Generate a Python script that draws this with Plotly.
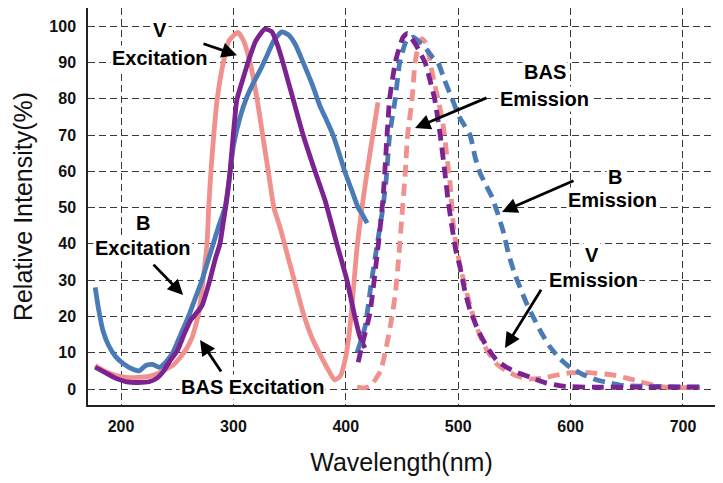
import plotly.graph_objects as go

# ---- data ----
b_exc_x = [177, 180, 184, 189, 195, 202, 210, 216, 222, 228, 234, 240, 246, 253, 260, 266, 272, 277, 282, 287,
           292.5, 296, 300, 306, 312, 318, 324, 330, 336, 343, 349, 355, 362, 370, 377, 383, 388.6, 394, 399, 405, 411, 415, 419]
b_exc_y = [28, 22, 16, 12, 9, 7, 5.5, 5, 6.5, 6.8, 6, 7.5, 10, 15, 20, 25, 30, 35, 40, 45,
           50, 57, 67, 75, 80.5, 84.5, 88, 92, 96, 98.4, 97.6, 95, 90, 84, 78, 74, 70, 65, 60, 55, 50, 48, 45.7]

v_exc_x = [177, 186, 195, 205, 215, 225, 232, 238, 244, 250, 256, 262, 266, 272, 279, 284, 288, 291, 294, 297,
           303, 308, 314, 320, 328, 334, 339, 344, 353, 362, 372.6, 381.5, 392, 401, 408, 413, 417]
v_exc_y = [6, 4.5, 3, 2, 1.8, 2, 3, 5, 8, 10.5, 15, 19, 20.5, 23, 30, 36, 40, 46, 52, 60,
           79.6, 85, 91, 96, 99.2, 98.5, 95, 90, 80, 70, 60, 52, 40, 30, 20, 14, 11.3]

bas_exc_x = [177, 185, 195, 205, 215, 225, 232, 240, 246, 252, 258, 263, 268.5, 271, 273, 276.5, 278, 280, 282.5,
             285.6, 291, 296, 304, 309, 314.8, 321, 326, 331, 336, 342, 348, 355, 362, 370, 378, 384, 390, 395,
             400, 404, 410, 414.4, 419, 424, 428.6]
bas_exc_y = [6.5, 5, 3.8, 3.2, 3.2, 3.5, 4.2, 5.5, 6.5, 8.5, 11, 14, 20, 25, 30, 40, 50, 60, 70,
             80, 90, 96, 98.3, 96, 90, 80, 70, 60, 50, 44, 37, 29, 21, 14, 9, 5.5, 2.5, 3.5,
             9, 18, 39, 50, 60, 70, 79]

b_em_x = [410, 417, 423, 428, 433, 436, 439, 444, 448, 454, 460, 466, 472, 477, 482, 488, 494.5, 501, 510.5, 515,
          519.5, 525, 530, 535, 540, 545, 550, 555, 561, 566.5, 574, 581.7, 590, 599.5, 611, 623.5, 633, 644, 660,
          680, 700, 715]
b_em_y = [10, 17, 30, 40, 50, 58, 70, 80, 90, 96, 97, 95.5, 93.5, 91.5, 90, 85, 80, 75, 70, 64,
          59.5, 56, 53, 48.5, 43.5, 37, 32, 28, 23.5, 20, 15.5, 11.6, 8.5, 6, 4, 2.5, 1.8, 1.1, 0.8,
          0.7, 0.6, 0.6]

v_em_x = [411, 416, 421.5, 428.6, 433, 436.7, 439, 444, 448, 451, 455, 462, 470.5, 475, 479, 484, 488, 491, 494.5,
          498, 501.6, 506, 510.5, 518, 525.6, 534, 543, 553, 564, 578, 593, 620, 660, 700, 715]
v_em_y = [7.4, 14, 21, 39, 52, 70, 80, 90, 94.5, 97, 98, 95, 90, 85, 80, 70, 60, 52, 44.6,
          38, 33.6, 27, 21.8, 16, 11.6, 8, 6, 4.5, 3.3, 1.7, 0.8, 0.5, 0.5, 0.5, 0.5]

bas_em_x = [410, 416, 422, 426, 431, 435, 440, 444, 447, 450, 453, 455, 459, 461.6, 465, 468, 472, 475, 479, 482,
            486.5, 490, 493, 495.5, 499, 504, 508, 513, 519, 525.6, 534, 543, 553, 564, 575, 587, 600, 617, 637,
            650, 662, 672, 682, 700, 715]
bas_em_y = [0.5, 0.3, 0.8, 2.5, 5, 10, 18, 26, 36, 48, 60, 70, 80, 90, 95, 96.5, 95, 90, 84, 80,
            73, 64, 56, 46, 38, 31, 26, 20.5, 15, 10.7, 7, 5, 3.5, 2.8, 3, 3.8, 4.5, 4.5, 3.9,
            3, 2, 1.2, 0.6, 0.4, 0.4]

x_ticks = [200, 300, 400, 500, 600, 700]
y_ticks = [0, 10, 20, 30, 40, 50, 60, 70, 80, 90, 100]

BLUE = "#4a7bb7"
PURPLE = "#7d2391"
PINK = "#f0918d"
FONT = "Liberation Sans, Arial, sans-serif"

fig = go.Figure()
series = [
    (bas_exc_x, bas_exc_y, PINK, "solid"),
    (b_exc_x, b_exc_y, BLUE, "solid"),
    (v_exc_x, v_exc_y, PURPLE, "solid"),
    (bas_em_x, bas_em_y, PINK, "12px,7px"),
    (b_em_x, b_em_y, BLUE, "12px,7px"),
    (v_em_x, v_em_y, PURPLE, "12px,7px"),
]
for xs, ys, c, d in series:
    fig.add_trace(go.Scatter(x=xs, y=ys, mode="lines",
                             line=dict(color=c, width=4.8, dash=d, shape="spline", smoothing=0.5),
                             showlegend=False, hoverinfo="skip"))

# text labels (each line separately)
labels = [
    ("V", 234.7, 98.9), ("Excitation", 234.7, 91.2),
    ("BAS", 577.2, 87.3), ("Emission", 577.2, 79.9),
    ("B", 639.5, 58.4), ("Emission", 637.7, 52.1),
    ("V", 619, 36.9), ("Emission", 620, 30.0),
    ("B", 219.6, 45.7), ("Excitation", 219.6, 38.8),
    ("BAS Excitation", 317.4, 0.55),
]
for t, x, y in labels:
    fig.add_annotation(x=x, y=y, xref="x", yref="y", text=t, showarrow=False,
                       font=dict(family=FONT, size=20, color="black", weight="bold"),
                       bgcolor="white", borderpad=1)

arrows = [
    (272, 95.3, 303.2, 92.0),
    (526.5, 80.4, 461.6, 71.9),
    (603.9, 57.6, 539, 48.8),
    (574.6, 27.8, 541.6, 11.3),
    (227.6, 34.7, 255.2, 25.9),
    (289.9, 4.4, 270.3, 13.5),
]
for ax, ay, x, y in arrows:
    fig.add_annotation(x=x, y=y, ax=ax, ay=ay, xref="x", yref="y", axref="x", ayref="y",
                       text="", showarrow=True, arrowhead=2, arrowsize=1.1, arrowwidth=2.8,
                       arrowcolor="black", standoff=0, startstandoff=0)

axis_common = dict(showline=True, linecolor="#222", linewidth=1.5, mirror=True,
                   showgrid=True, gridcolor="#3a3a3a", gridwidth=1.2, griddash="7px,4px",
                   zeroline=False, ticks="outside", tickcolor="rgba(0,0,0,0)",
                   automargin=False,
                   tickfont=dict(family=FONT, size=16, color="#111", weight="bold"))

fig.update_xaxes(range=[170.6, 728.5], tickvals=x_ticks, ticktext=[str(v) for v in x_ticks],
                 title=dict(text="Wavelength(nm)", font=dict(family=FONT, size=25, color="#111"), standoff=20),
                 ticklen=6, **axis_common)
fig.update_yaxes(range=[-4.4, 105], tickvals=y_ticks, ticktext=[str(v) for v in y_ticks],
                 title=dict(text="Relative Intensity(%)", font=dict(family=FONT, size=25, color="#111"), standoff=10),
                 ticklen=7, **axis_common)

# page body adds an 8px offset: the figure is sized/margined so the plot area lands where the reference has it
fig.update_layout(width=715, height=475, margin=dict(l=80, r=8, t=0, b=78),
                  paper_bgcolor="white", plot_bgcolor="white")

fig.write_html("out.html")
